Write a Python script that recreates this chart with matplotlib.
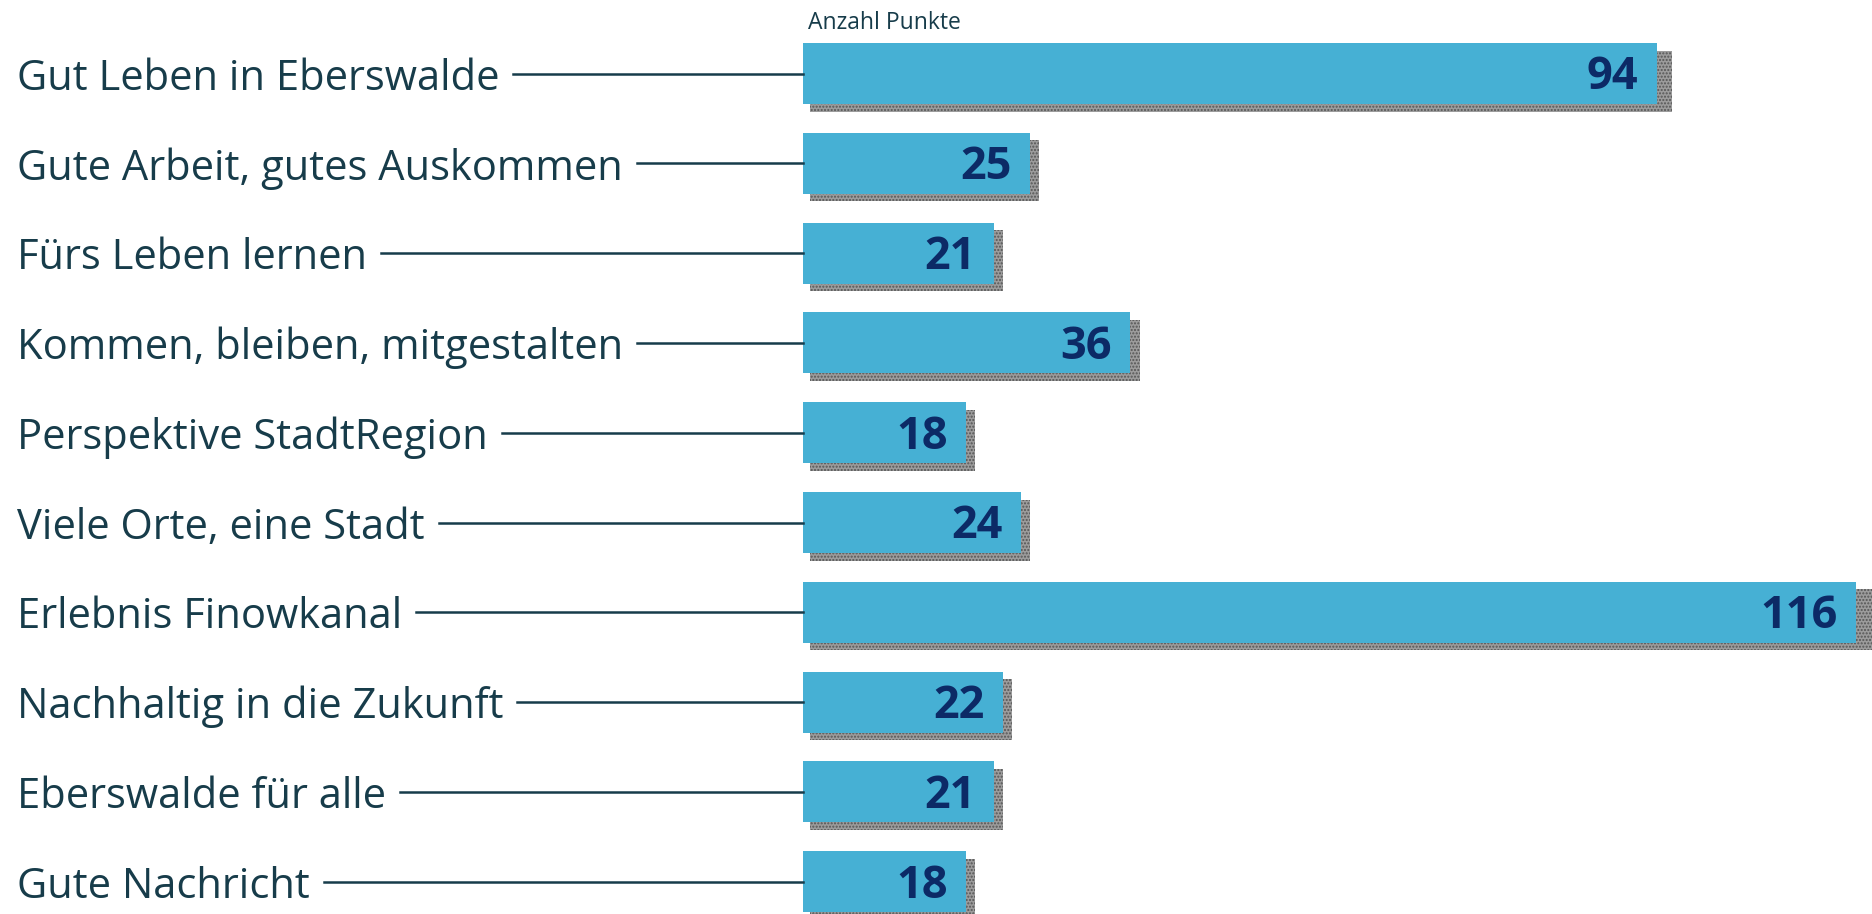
import matplotlib
matplotlib.use('Agg')
import matplotlib.pyplot as plt
from matplotlib.lines import Line2D

categories = ['Gut Leben in Eberswalde', 'Gute Arbeit, gutes Auskommen', 'Fürs Leben lernen',
              'Kommen, bleiben, mitgestalten', 'Perspektive StadtRegion', 'Viele Orte, eine Stadt',
              'Erlebnis Finowkanal', 'Nachhaltig in die Zukunft', 'Eberswalde für alle',
              'Gute Nachricht']
values = [94, 25, 21, 36, 18, 24, 116, 22, 21, 18]
axis_title = 'Anzahl Punkte'

bar_color = '#46b0d4'
text_color = '#173c4a'
value_color = '#0c2a66'
font = 'Open Sans'

W, H = 1872, 914
fig = plt.figure(figsize=(W / 100, H / 100), dpi=100)
ax = fig.add_axes([803 / W, 0, 1 - 803 / W, 1])
ax.set_xlim(0, 1069 / 9.08)
ax.set_ylim(9.36, -0.818)
ax.axis('off')

pos = list(range(len(values)))
bh = 0.68
# drop shadow, slightly stretched like the original
plt.rcParams['hatch.linewidth'] = 1.0
ax.barh([p + 0.085 for p in pos], [v * 1.01 for v in values], left=0.77, height=bh,
        color='#9c9c9c', edgecolor='#555555', hatch='.....', linewidth=0, zorder=1)
ax.barh(pos, values, height=bh, color=bar_color, zorder=2)

for p, v in zip(pos, values):
    ax.text(v - 2.0, p + 0.05, str(v), ha='right', va='center', fontsize=32.5,
            fontweight='bold', color=value_color, family=font, zorder=3)

fig.text(808 / W, 1 - 11 / H, axis_title, ha='left', va='top', fontsize=16.5,
         color=text_color, family=font)

labels = []
for p, c in zip(pos, categories):
    y = 1 - (73.5 + 89.8 * p) / H
    t = fig.text(17 / W, y, c, ha='left', va='center_baseline', fontsize=30,
                 color=text_color, family=font)
    labels.append((t, y))

fig.canvas.draw()
r = fig.canvas.get_renderer()
for t, y in labels:
    x1 = t.get_window_extent(r).x1 / W + 14 / W
    fig.add_artist(Line2D([x1, 803 / W], [y, y], color=text_color, lw=1.8,
                          transform=fig.transFigure))

fig.savefig('out.png', dpi=100)
